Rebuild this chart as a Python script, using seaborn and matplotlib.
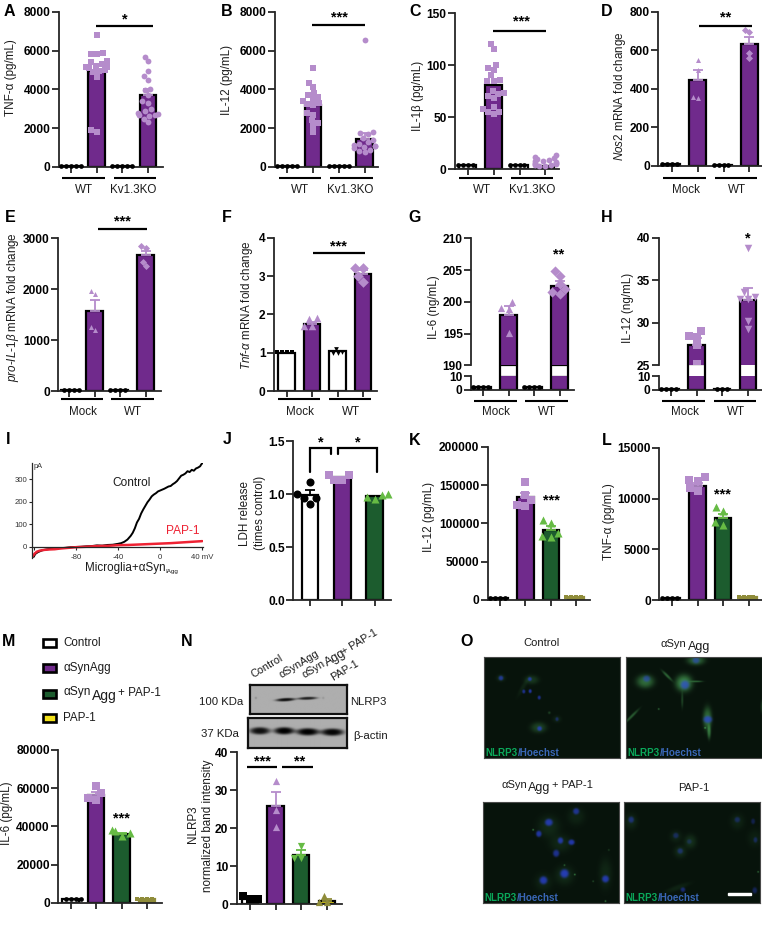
import numpy as np
import matplotlib
matplotlib.use("Agg")
import matplotlib.pyplot as plt
from matplotlib.patches import Rectangle
import seaborn as sns

sns.set_theme(style="ticks")
plt.rcParams["font.family"] = ["Liberation Sans", "DejaVu Sans"]
plt.rcParams["mathtext.fontset"] = "custom"
plt.rcParams["mathtext.rm"] = "Liberation Sans"
plt.rcParams["mathtext.it"] = "Liberation Sans:italic"
plt.rcParams["mathtext.bf"] = "Liberation Sans:bold"

W, H = 762, 925
PURPLE = "#702a8c"
LILAC = "#b58ccb"
DGREEN = "#1c5c2e"
LGREEN = "#66bb44"
OLIVE = "#8f8c3a"
YELLOW = "#f3e21b"
TXT = "#1c1c1c"

cats4 = ["g1", "g2", "g3", "g4"]

# valores
a_means = [60, 4950, 50, 3700]
a_errs = [0, 0, 0, 300]
a_pts = [[60] * 5,
         [6800, 5900, 5850, 5850, 5450, 5400, 5350, 5300, 5200, 5150, 5150, 5100, 5000, 4950, 4900, 4650, 1900, 1800],
         [50] * 5,
         [5700, 5450, 4950, 4700, 4500, 4050, 3950, 3700, 3400, 3300, 3000, 2900, 2800, 2750, 2700, 2700, 2650, 2500, 2300]]
b_means = [60, 3200, 50, 1450]
b_errs = [0, 0, 0, 300]
b_pts = [[60] * 5,
         [5100, 4350, 4150, 3800, 3700, 3600, 3500, 3400, 3300, 3250, 3200, 2800, 2700, 2400, 2250, 2100, 1800],
         [50] * 5,
         [6550, 1800, 1750, 1700, 1500, 1400, 1300, 1200, 1150, 1100, 1100, 1050, 1000, 900, 800, 750]]
c_means = [4, 81, 3.5, 3]
c_errs = [0, 0, 0, 0]
c_pts = [[4] * 4,
         [120, 115, 100, 97, 95, 90, 86, 85, 85, 75, 73, 72, 70, 68, 60, 58, 55, 55, 53],
         [3.5] * 4,
         [13, 12, 11, 10, 9, 8, 8, 7, 6, 6, 5, 5, 4, 4, 3, 3]]
d_means = [8, 445, 6, 630]
d_errs = [0, 52, 0, 40]
d_pts = [[8] * 4, [550, 500, 360, 352], [6] * 4, [705, 695, 584, 558]]
e_means = [15, 1580, 15, 2680]
e_errs = [0, 200, 0, 70]
e_pts = [[15] * 4, [1965, 1900, 1265, 1200], [15] * 4, [2855, 2800, 2540, 2456]]
f_means = [1.0, 1.75, 1.05, 3.05]
f_errs = [0, 0.05, 0, 0.12]
f_pts = [[1.02] * 4, [1.9, 1.88, 1.7, 1.7], [1.1, 1.02, 1.0, 0.98], [3.2, 3.2, 3.0, 2.85]]
g_means = [2, 198, 2, 202.5]
g_errs = [0, 1.4, 0, 0.8]
g_pts = [[2] * 4, [199.9, 199.1, 198.9, 195.1], [2] * 4, [204.9, 204, 202.8, 202, 201.5, 201.2]]
h_means = [1, 27.4, 1, 32.7]
h_errs = [0, 0.8, 0, 1.4]
h_pts = [[1] * 4, [29, 28.4, 28.3, 27.4, 25.2], [1] * 3, [38.8, 33.6, 33, 32.8, 32.8, 30.2, 29.3]]
j_means = [0.99, 1.16, 0.98]
j_errs = [0.05, 0, 0]
j_pts = [[1.117, 1.0, 0.96, 0.96, 0.907], [1.18, 1.18, 1.13, 1.13], [1.0, 0.99, 0.97, 0.95]]
k_means = [3000, 134000, 91000, 4000]
k_errs = [0, 6000, 6000, 0]
k_pts = [[3000] * 4, [153500, 137000, 130000, 124000, 122600], [105000, 100000, 88000, 83000, 82000], [4000] * 4]
l_means = [200, 11250, 8050, 300]
l_errs = [0, 300, 430, 0]
l_pts = [[200] * 4, [12100, 11850, 11700, 11000, 10700], [9200, 8800, 7700, 7450], [300] * 4]
m_means = [1800, 56500, 36000, 1800]
m_errs = [0, 1500, 600, 0]
m_pts = [[1800] * 4, [61100, 57300, 54700, 53800], [38000, 37500, 36500, 35000], [1800] * 4]
n_means = [1.5, 26, 13, 1]
n_errs = [0, 3.6, 1.2, 0.3]
n_pts = [[2.2, 1.5, 1.4], [32.5, 24.8, 20.4], [15.4, 12.3, 12.2], [2.3, 0.7, 0.5]]

i_mv_control = [-120, -118.5, -116, -112, -108, -104, -100, -95, -90, -85, -80, -75, -70, -65, -60, -55, -50, -45,
                -40, -37, -34, -31, -28, -26, -24, -22, -20, -18, -16, -14, -12, -10, -8, -6, -4, -2, 0, 2, 4, 6, 8,
                10, 12, 14, 16, 18, 20, 22, 24, 26, 28, 30, 32, 34, 36, 38, 39, 40]
i_pa_control = [-45, -32, -24, -16, -12, -9, -9, -6, -5, -2, -1, 0, 2, 3, 6, 5, 8, 9,
                13, 16, 22, 32, 48, 62, 82, 108, 124, 148, 166, 182, 198, 210, 224, 232, 238, 246, 250, 254, 258, 263, 268,
                270, 278, 284, 292, 304, 316, 320, 326, 336, 332, 342, 338, 348, 352, 358, 366, 371]
i_mv_pap = [-121, -119, -117, -114, -110, -105, -100, -95, -90, -85, -80, -70, -60, -50, -40, -30, -20, -10, 0, 10, 20, 30, 40]
i_pa_pap = [-42, -30, -22, -17, -14, -12, -11, -8, -6, -4, -2, 0, 3, 4, 7, 8, 10, 12, 14, 16, 19, 22, 25]
i_yticks = [0, 100, 200, 300]
i_xticks = [-120, -80, -40, 0, 40]
i_xlabels = ["", "-80", "-40", "0", "40 mV"]

# fila de manchas: x, y, sigma x, sigma y, angulo, intensidad (en pixeles de la imagen 3x)
ctrl_green = [(395, 150, 16, 10, 0, .22), (415, 292, 18, 12, 0, .3), (303, 145, 10, 8, 0, .15), (370, 170, 5, 25, 30, .1),
              (447, 248, 3, 3, 0, .3), (470, 267, 10, 8, 0, .1)]
ctrl_blue = [(303, 145, 6, 6, 0, .7), (389, 148, 5, 5, 0, .75), (371, 185, 4, 5, 0, .7), (390, 184, 4, 5, 0, .8),
             (417, 203, 4, 5, 0, .7), (470, 267, 4, 5, 0, .45), (418, 295, 6, 6, 0, .8)]
syn_green = [(886, 92, 20, 11, 0, .5), (735, 155, 20, 15, 0, .55), (850, 160, 19, 19, 0, .72), (920, 265, 10, 26, 0, .55),
             (695, 258, 3, 22, 45, .45), (845, 210, 2.5, 18, 0, .3), (800, 138, 3, 16, -45, .5), (888, 155, 14, 2, 0, .5),
             (925, 305, 4, 16, 0, .55), (775, 237, 2, 2, 0, .6), (1082, 230, 3, 14, 0, .22), (913, 293, 2, 2, 0, .7)]
syn_blue = [(886, 92, 9, 8, 0, .6), (739, 147, 9, 8, 0, .6), (853, 165, 11, 11, 0, .75), (921, 268, 11, 9, 0, .8)]
pap_green = [(445, 590, 25, 25, 0, .14), (527, 560, 20, 20, 0, .1), (480, 640, 25, 20, 0, .12), (492, 735, 22, 22, 0, .14),
             (429, 755, 20, 20, 0, .1), (615, 730, 15, 35, 0, .12), (398, 600, 2, 2, 0, .7), (492, 705, 2, 2, 0, .5),
             (523, 733, 2, 2, 0, .7), (615, 812, 2, 2, 0, .7), (625, 660, 2, 2, 0, .3), (578, 753, 2, 2, 0, .4)]
pap_blue = [(445, 578, 10, 9, 0, .85), (527, 545, 8, 8, 0, .7), (415, 612, 7, 8, 0, .8), (480, 632, 7, 8, 0, .8),
            (513, 637, 8, 7, 0, .85), (467, 670, 8, 9, 0, .7), (492, 730, 11, 11, 0, .9), (429, 750, 10, 10, 0, .85),
            (615, 746, 9, 9, 0, .85)]
pp1_green = [(692, 575, 14, 18, 0, .12), (1008, 575, 16, 18, 0, .1), (825, 620, 14, 14, 0, .1), (868, 635, 14, 16, 0, .18),
             (838, 665, 14, 14, 0, .15), (830, 772, 30, 6, -20, .1), (1070, 725, 2, 2, 0, .6), (1060, 625, 16, 20, 0, .08)]
pp1_blue = [(692, 570, 7, 8, 0, .55), (1008, 570, 7, 7, 0, .4), (1055, 575, 5, 7, 0, .35), (825, 617, 7, 7, 0, .4),
            (865, 635, 6, 6, 0, .3), (838, 663, 7, 7, 0, .45), (1062, 630, 5, 7, 0, .4), (846, 778, 6, 6, 0, .55),
            (1060, 780, 6, 8, 0, .4)]
blot_top = [(855, 210, 24, 4, -3, .62), (920, 206, 24, 3.5, -2, .55), (767, 205, 3, 3, 0, .12), (967, 205, 3, 3, 0, .08)]
blot_bottom = [(780, 303, 25, 9, 0, .62), (852, 303, 25, 9, 0, .68), (922, 306, 28, 9, 0, .68), (995, 307, 28, 9, 0, .66)]

fig = plt.figure(figsize=(W / 100, H / 100), dpi=100)
ov = fig.add_axes([0, 0, 1, 1], zorder=20)
ov.set_xlim(0, W)
ov.set_ylim(H, 0)
ov.axis("off")


def new_axes(x0, x1, ytop, ybot, **kw):
    return fig.add_axes([x0 / W, 1 - ybot / H, (x1 - x0) / W, (ybot - ytop) / H], **kw)


def txt(x, y, s, size=8.4, color=TXT, ha="center", va="center", **kw):
    ov.text(x, y, s, fontsize=size, color=color, ha=ha, va=va, **kw)


def style_axis(ax, yticks, xticks=True, n=4):
    sns.despine(ax=ax)
    ax.spines["left"].set_linewidth(1.3)
    ax.spines["bottom"].set_linewidth(1.3)
    ax.set_xlabel("")
    ax.set_ylabel("")
    ax.set_yticks(yticks)
    ax.tick_params(axis="y", length=5.2, width=1.3, pad=0.8, labelsize=8.6, left=True)
    for lab in ax.get_yticklabels():
        lab.set_fontweight("bold")
        lab.set_color("black")
    ax.patch.set_alpha(0)
    if xticks:
        ax.set_xticks(range(n), [""] * n)
        ax.tick_params(axis="x", length=4, width=1.3, bottom=True)
    else:
        ax.set_xticks([])


def draw_bars(ax, cats, means, fills, sp):
    sns.barplot(x=cats, y=means, order=cats, hue=cats, hue_order=cats, palette=fills, legend=False, saturation=1,
                width=16.5 / sp, edgecolor="black", linewidth=1.6, errorbar=None, ax=ax)


def draw_points(ax, cats, means, errs, pts, colors, markers, msize, small=()):
    for i, cat in enumerate(cats):
        if errs[i] > 0:
            ax.errorbar(i, means[i], yerr=[[0], [errs[i]]], color=colors[i], capsize=3.4, lw=1.3, capthick=1.3, zorder=2.5)
        if len(pts[i]):
            # los grupos planos se ven como una banda fina
            flat = len(set(pts[i])) == 1
            size = 3.4 if (flat or i in small) else msize
            sns.swarmplot(x=[cat] * len(pts[i]), y=pts[i], order=cats, color=colors[i], marker=markers[i],
                          size=size, linewidth=0, warn_thresh=1, ax=ax, clip_on=False)


def bar_panel(x0, x1, ytop, ybot, c0, sp, ylim, yticks, means, errs, pts, colors, markers, fills, msize=4.2, small=(), olive_last=False):
    cats = cats4[:len(means)]
    ax = new_axes(x0, x1, ytop, ybot)
    draw_bars(ax, cats, means, fills, sp)
    if olive_last:
        ax.patches[3].set_edgecolor(OLIVE)
        ax.patches[3].set_facecolor(OLIVE)
    draw_points(ax, cats, means, errs, pts, colors, markers, msize, small)
    ax.set_ylim(*ylim)
    ax.set_xlim((x0 - c0) / sp, (x1 - c0) / sp)
    style_axis(ax, yticks, n=len(cats))
    return ax


def broken_panel(x0, x1, ytop, ybrk, ylow, ybot, c0, sp, ylim_hi, yt_hi, ylim_lo, yt_lo, means, errs, pts, colors, markers, fills, msize):
    xlim = ((x0 - c0) / sp, (x1 - c0) / sp)
    top = new_axes(x0, x1, ytop, ybrk)
    draw_bars(top, cats4, means, fills, sp)
    hi_pts = [[v for v in p if v >= ylim_hi[0]] for p in pts]
    draw_points(top, cats4, means, errs, hi_pts, colors, markers, msize)
    top.set_ylim(*ylim_hi)
    top.set_xlim(*xlim)
    style_axis(top, yt_hi, xticks=False)
    top.spines["bottom"].set_visible(False)

    # hueco blanco entre los dos tramos del eje
    gap = new_axes(x0, x1, ybrk, ylow)
    draw_bars(gap, cats4, means, ["white"] * 4, sp)
    gap.set_ylim(ylim_lo[1], ylim_hi[0])
    gap.set_xlim(*xlim)
    gap.set_xticks([])
    gap.set_yticks([])
    gap.set_ylabel("")
    gap.patch.set_alpha(0)
    for sp_name in gap.spines:
        gap.spines[sp_name].set_visible(False)
    for ax_part in (top, gap):
        for patch in ax_part.patches:
            if patch.get_height() < ylim_lo[1]:
                patch.set_visible(False)

    low = new_axes(x0, x1, ylow, ybot)
    draw_bars(low, cats4, means, fills, sp)
    lo_pts = [[v for v in p if v < ylim_lo[1]] for p in pts]
    draw_points(low, cats4, [0] * 4, [0] * 4, lo_pts, colors, markers, 3.4)
    low.set_ylim(*ylim_lo)
    low.set_xlim(*xlim)
    style_axis(low, yt_lo)


def groups(c0, sp, y, ylab, labels, xlabs):
    for k in (0, 2):
        ov.plot([c0 + k * sp - 8.7, c0 + (k + 1) * sp + 8], [y, y], color="black", lw=1.5, solid_capstyle="butt")
    for lab, xl in zip(labels, xlabs):
        txt(xl, ylab, lab, size=8.4)


def sig(x0, x1, y, xs, ys, s):
    if x0 is not None:
        ov.plot([x0, x1], [y, y], color="black", lw=1.6, solid_capstyle="butt")
    txt(xs, ys, s, size=10.5, color="black", fontweight="bold")


def ylab(x, y, s, size=8.4):
    txt(x, y, s, size=size, rotation=90)


def np_blobs(xx, yy, blobs, power=1.0):
    out = np.zeros_like(xx, dtype=float)
    for bx, by, sx, sy, ang, amp in blobs:
        t = np.deg2rad(ang)
        dx = (xx - bx) * np.cos(t) + (yy - by) * np.sin(t)
        dy = -(xx - bx) * np.sin(t) + (yy - by) * np.cos(t)
        out += amp * np.exp(-0.5 * ((dx / sx) ** 2 + (dy / sy) ** 2) ** power)
    return out


def fluor_image(x0, x1, ytop, ybot, zx, zy, green, blue):
    # imagen de microscopia hecha con manchas gaussianas
    w, h = int(x1 - x0) * 3, int(ybot - ytop) * 3
    xx, yy = np.meshgrid(np.arange(w) + zx, np.arange(h) + zy)
    gch = np_blobs(xx, yy, green, power=1.4)
    bch = np.clip(np_blobs(xx, yy, blue, power=2.0), 0, 1)
    gch = gch * (1 - 0.85 * bch)
    img = np.zeros((h, w, 3))
    img[..., 0] = 0.03 + 0.28 * gch + 0.12 * bch
    img[..., 1] = 0.075 + 0.62 * gch + 0.16 * bch
    img[..., 2] = 0.045 + 0.32 * gch + 0.72 * bch
    ax = new_axes(x0, x1, ytop, ybot)
    ax.imshow(np.clip(img, 0, 1), aspect="auto", interpolation="bilinear")
    ax.set_xticks([])
    ax.set_yticks([])
    for s in ax.spines.values():
        s.set_color("#4a4a4a")
        s.set_linewidth(0.8)
    ov.text(x0 + 1.5, ybot - 5.5, "NLRP3", fontsize=7.1, fontweight="bold", color="#0aa85a", va="center")
    ov.text(x0 + 34, ybot - 5.5, "/Hoechst", fontsize=7.1, fontweight="bold", color="#3a68b8", va="center")
    return ax


def blot_image(x0, x1, ytop, ybot, zx, zy, bands):
    w, h = int(x1 - x0) * 3, int(ybot - ytop) * 3
    xx, yy = np.meshgrid(np.arange(w) + zx, np.arange(h) + zy)
    img = 0.68 - np_blobs(xx, yy, bands, power=1.8)
    ax = new_axes(x0, x1, ytop, ybot)
    ax.imshow(np.clip(img, 0, 1), cmap="gray", vmin=0, vmax=1, aspect="auto", interpolation="bilinear")
    ax.set_xticks([])
    ax.set_yticks([])
    for s in ax.spines.values():
        s.set_color("#111111")
        s.set_linewidth(1.6)


BK = "black"
two_fill = ["white", PURPLE, "white", PURPLE]
four_fill = ["white", PURPLE, DGREEN, YELLOW]
row_colors = [BK, LILAC, BK, LILAC]
group_colors = [BK, LILAC, LGREEN, OLIVE]

# fila 1
bar_panel(59, 163, 12, 167, 71, 25.7, (0, 8000), [0, 2000, 4000, 6000, 8000], a_means, a_errs, a_pts,
          row_colors, ["o", "s", "o", "o"], two_fill)
bar_panel(275, 378, 12, 167, 287.3, 25.8, (0, 8000), [0, 2000, 4000, 6000, 8000], b_means, b_errs, b_pts,
          row_colors, ["o", "s", "o", "o"], two_fill)
bar_panel(455, 559.3, 13, 169, 467.7, 25.9, (0, 150), [0, 50, 100, 150], c_means, c_errs, c_pts,
          row_colors, ["o", "s", "o", "o"], two_fill)
bar_panel(658.3, 762, 11.7, 166, 671.7, 25.9, (0, 800), [0, 200, 400, 600, 800], d_means, d_errs, d_pts,
          row_colors, ["o", "^", "o", "D"], two_fill, msize=3.6)

# fila 2
bar_panel(58.3, 160.7, 238.3, 391, 69.3, 25.4, (0, 3000), [0, 1000, 2000, 3000], e_means, e_errs, e_pts,
          row_colors, ["o", "^", "o", "D"], two_fill, msize=3.6)
bar_panel(274, 376.7, 237.7, 391, 286.7, 25.4, (0, 4), [0, 1, 2, 3, 4], f_means, f_errs, f_pts,
          row_colors, ["s", "^", "v", "D"], two_fill, msize=5.4, small=(2,))
broken_panel(471, 574.3, 238.3, 365.3, 376.3, 390, 483, 25.5, (190, 210), [190, 195, 200, 205, 210], (0, 10), [0, 10],
             g_means, g_errs, g_pts, row_colors, ["o", "^", "o", "D"], two_fill, 5.2)
broken_panel(658.7, 762, 237.7, 365.3, 376.3, 390, 671, 25.6, (25, 40), [25, 30, 35, 40], (0, 10), [0, 10],
             h_means, h_errs, h_pts, row_colors, ["o", "s", "o", "v"], two_fill, 5.4)

# fila 3
ax_i = new_axes(32.3, 202.7, 463.3, 558)
sns.lineplot(x=i_mv_control, y=i_pa_control, color="black", lw=1.4, ax=ax_i, errorbar=None, sort=False)
sns.lineplot(x=i_mv_pap, y=i_pa_pap, color="#ee2233", lw=1.8, ax=ax_i, errorbar=None, sort=False)
ax_i.set_xlim(-121.3, 40.4)
ax_i.set_ylim(-50, 371)
sns.despine(ax=ax_i)
ax_i.spines["bottom"].set_position(("data", 0))
ax_i.set_xticks(i_xticks, i_xlabels)
ax_i.set_yticks(i_yticks)
ax_i.tick_params(axis="both", labelsize=5.6, length=2.5, width=0.8, pad=1, labelcolor="#333333", left=True, bottom=True)
ax_i.tick_params(axis="x", pad=3)
ax_i.spines["left"].set_linewidth(0.9)
ax_i.spines["bottom"].set_linewidth(0.9)
ax_i.patch.set_alpha(0)

bar_panel(293.3, 391, 441, 600.3, 310, 32.35, (0, 1.5), [0, 0.5, 1.0, 1.5], j_means, j_errs, j_pts,
          [BK, LILAC, LGREEN], ["o", "s", "^"], ["white", PURPLE, DGREEN], msize=5.8)
bar_panel(487.7, 590.3, 446.7, 600, 500, 25.4, (0, 200000), [0, 50000, 100000, 150000, 200000], k_means, k_errs, k_pts,
          group_colors, ["o", "s", "^", "s"], four_fill, msize=5.8, olive_last=True)
bar_panel(659.3, 762, 447.7, 600.3, 672, 25.5, (0, 15000), [0, 5000, 10000, 15000], l_means, l_errs, l_pts,
          group_colors, ["o", "s", "^", "s"], four_fill, msize=5.8, olive_last=True)

# fila 4
bar_panel(58.3, 161.7, 750, 902.7, 70.7, 25.5, (0, 80000), [0, 20000, 40000, 60000, 80000], m_means, m_errs, m_pts,
          group_colors, ["o", "s", "^", "s"], four_fill, msize=5.8, olive_last=True)
bar_panel(236.7, 341.7, 752.3, 904.3, 250, 25.6, (0, 40), [0, 10, 20, 30, 40], n_means, n_errs, n_pts,
          group_colors, ["s", "^", "v", "^"], four_fill, msize=5.2)

blot_image(250, 347, 685, 714.3, 750, 165, blot_top)
blot_image(248.3, 347, 718.3, 748.3, 745, 265, blot_bottom)

fluor_image(484.3, 620.3, 656.7, 758.3, 253, 80, ctrl_green, ctrl_blue)
fluor_image(626, 761.7, 656.7, 758.3, 678, 80, syn_green, syn_blue)
fluor_image(482.7, 618.7, 801.7, 903.3, 248, 515, pap_green, pap_blue)
fluor_image(623.7, 760, 801.7, 903.3, 671, 515, pp1_green, pp1_blue)
ov.add_patch(Rectangle((728.3, 892.5), 22.7, 2.6, color="white", zorder=5))

# letras de los paneles
letters = [("A", 9, 11.7), ("B", 226.7, 11), ("C", 415.3, 11.7), ("D", 607, 11), ("E", 10.7, 217.7), ("F", 227.3, 217.7),
           ("G", 414.3, 217.7), ("H", 607, 217.7), ("I", 8.3, 440), ("J", 226.7, 440), ("K", 414.3, 440.7), ("L", 607, 440.7),
           ("M", 8.3, 642), ("N", 186.7, 642), ("O", 466.7, 642)]
for let, lx, ly in letters:
    txt(lx, ly, let, size=11.5, color="black", fontweight="bold")

# etiquetas de eje
ylab(11, 78, "TNF-α (pg/mL)")
ylab(227, 80, "IL-12 (pg/mL)")
ylab(417.7, 96, "IL-1β (pg/mL)")
ylab(619.7, 96.7, r"$\mathit{Nos2}$ mRNA fold change")
ylab(12.7, 306.7, r"$\mathit{pro}$-$\mathit{IL}$-$\mathit{1\beta}$ mRNA fold change")
ylab(246.7, 305, r"$\mathit{Tnf}$-$\mathit{\alpha}$ mRNA fold change")
ylab(434.3, 306.7, "IL-6 (ng/mL)")
ylab(627.7, 307.5, "IL-12 (ng/mL)")
ylab(245, 513.3, "LDH release")
ylab(260, 513.3, "(times control)")
ylab(428.7, 517.5, "IL-12 (pg/mL)")
ylab(608.7, 521.7, "TNF-α (pg/mL)")
ylab(7.3, 813.3, "IL-6 (pg/mL)")
ylab(193.3, 824, "NLRP3")
ylab(208, 825.8, "normalized band intensity")

# grupos bajo el eje
groups(71, 25.7, 177.7, 190, ["WT", "Kv1.3KO"], [84, 133.3])
groups(287.3, 25.8, 177.7, 190, ["WT", "Kv1.3KO"], [300, 350])
groups(467.7, 25.9, 177.7, 190, ["WT", "Kv1.3KO"], [481.7, 532])
groups(671.7, 25.9, 177.7, 190, ["Mock", "WT"], [685.7, 737])
groups(69.3, 25.4, 399.3, 411.7, ["Mock", "WT"], [82.7, 133.3])
groups(286.7, 25.4, 399.3, 411.7, ["Mock", "WT"], [300, 351])
groups(483, 25.5, 401, 411.7, ["Mock", "WT"], [496, 546.7])
groups(671, 25.6, 401, 411.7, ["Mock", "WT"], [685.3, 736])

# significancia
sig(96, 152.7, 25.7, 124.5, 19.5, "*")
sig(311.7, 365, 25, 339.3, 17.8, "***")
sig(493, 546, 30.7, 521, 21.5, "***")
sig(698.7, 752, 25.7, 725.3, 17.5, "**")
sig(98.3, 146.7, 229, 122.7, 221, "***")
sig(313.3, 365, 253.3, 338.3, 246.3, "***")
sig(None, None, 0, 559, 254.5, "**")
sig(None, None, 0, 747.7, 238, "*")
sig(None, None, 0, 551.3, 500, "***")
sig(None, None, 0, 722, 494, "***")
sig(None, None, 0, 121.7, 818.5, "***")
sig(246.7, 277.3, 767, 262.7, 761, "***")
sig(281.7, 313.3, 767, 299.3, 761, "**")

# corchetes del panel J
ov.plot([310, 310, 330.7, 330.7], [471.7, 448.3, 448.3, 454.3], color="black", lw=1.6, solid_joinstyle="miter")
ov.plot([338, 338, 377.3, 377.3], [454.3, 448.3, 448.3, 471.7], color="black", lw=1.6, solid_joinstyle="miter")
txt(321, 442, "*", size=10.5, color="black", fontweight="bold")
txt(358, 442, "*", size=10.5, color="black", fontweight="bold")

# textos del panel I
txt(132, 482.5, "Control", size=8.6)
txt(182.5, 531.5, "PAP-1", size=8.6, color="#ee2233")
txt(38.5, 466, "pA", size=5.3, color="#333333", ha="center")
txt(85, 568.5, "Microglia+αSyn", size=8.4, ha="left")
txt(165, 571, "IAgg", size=4.5, ha="left")

# leyenda del panel M
legend_rows = [("Control", "white", 642.7), ("αSynAgg", PURPLE, 668.3), ("", DGREEN, 694), ("PAP-1", YELLOW, 717.7)]
for name, col, ly in legend_rows:
    ov.add_patch(Rectangle((43, ly - 4), 13, 8, facecolor=col, edgecolor="black", lw=1.9))
    if name:
        txt(63.3, ly, name, ha="left")
txt(63.3, 692, "αSyn", ha="left", size=8.6)
txt(91.5, 696, "Agg", ha="left", size=10)
txt(118, 693, "+ PAP-1", ha="left", size=8.4)

# etiquetas del western
lane_labels = [("Control", 254, 678, 7.8), ("αSynAgg", 281.7, 678, 7.8), ("PAP-1", 333, 681, 7.8),
               ("αSyn", 304, 678.7, 7.8), ("Agg", 327, 666.5, 9), ("+ PAP-1", 344, 654.7, 7.8)]
for lab, lx, ly, size in lane_labels:
    ov.text(lx, ly, lab, fontsize=size, color=TXT, rotation=31, rotation_mode="anchor", ha="left", va="baseline")
txt(199, 701.7, "100 KDa", ha="left", size=8.2)
txt(200.7, 734.3, "37 KDa", ha="left", size=8.2)
txt(350, 701.7, "NLRP3", ha="left", size=8.2)
txt(353.3, 736, "β-actin", ha="left", size=8.2)

# titulos del panel O
txt(541.3, 642.7, "Control", size=8)
txt(660.5, 644, "αSyn", size=8, ha="left")
txt(688, 647, "Agg", size=9, ha="left")
txt(501, 785.5, "αSyn", size=8, ha="left")
txt(528, 788, "Agg", size=9, ha="left")
txt(552, 785, "+ PAP-1", size=8, ha="left")
txt(693.3, 787.7, "PAP-1", size=8)

fig.savefig("out.png", dpi=100)
